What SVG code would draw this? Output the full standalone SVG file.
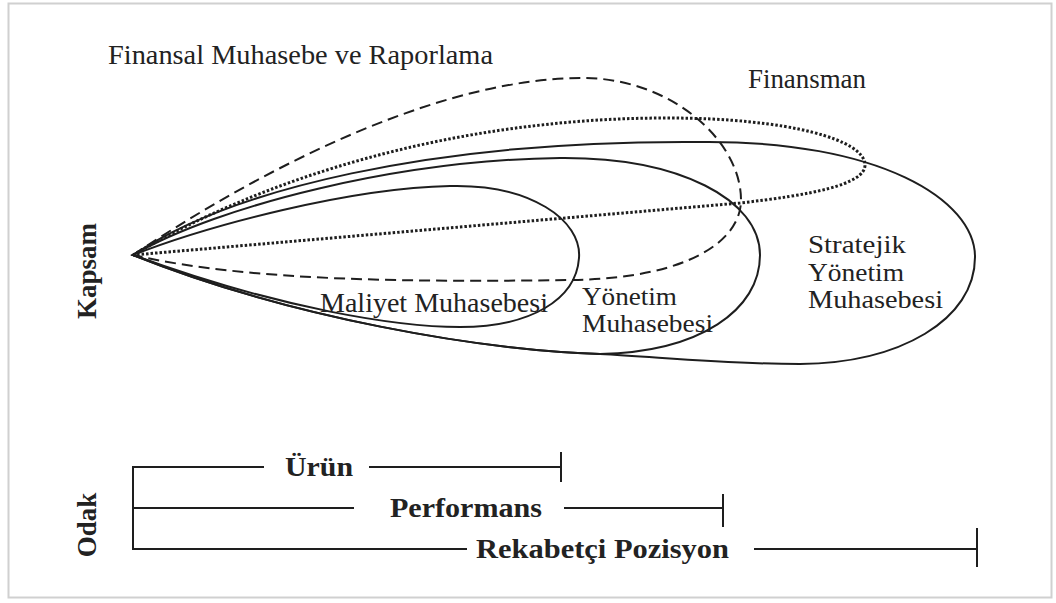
<svg xmlns="http://www.w3.org/2000/svg" width="1056" height="603" viewBox="0 0 1056 603">
<style>
.t{font-family:"Liberation Serif","Times New Roman",serif;fill:#222;font-size:27px}
.m{font-size:25px}
.b{font-weight:bold}
.ln{fill:none;stroke:#1e1e1e;stroke-width:2}
.dash{stroke-dasharray:11 6}
.dot{stroke-dasharray:2.5 2;stroke-width:3}
</style>
<rect x="0" y="0" width="1056" height="603" fill="#fff"/>
<rect x="8.5" y="3.5" width="1043" height="594" fill="none" stroke="#d0d0d0" stroke-width="2"/>
<g id="labels">
<text class="t" x="108" y="64" textLength="385" lengthAdjust="spacingAndGlyphs">Finansal Muhasebe ve Raporlama</text>
<text class="t" x="748" y="88" textLength="118" lengthAdjust="spacingAndGlyphs">Finansman</text>
<text class="t b" font-size="26" text-anchor="middle" transform="translate(96,271) rotate(-90)">Kapsam</text>
<text class="t b" font-size="26" text-anchor="middle" transform="translate(96,525) rotate(-90)">Odak</text>
</g>
<g id="finansal-muhasebe">
<path class="ln dash" d="M133,255 C283,155 450,78 583,78 C670,78 741,140 741,200 C741,240 690,278 573,280 C420,282 250,282 133,255 Z"/>
</g>
<g id="finansman">
<path class="ln dot" d="M133,255 C260,180 450,118 667,118 C790,118 865,140 865,165 C865,185 810,195 740,203 L133,255 Z"/>
</g>
<g id="stratejik">
<path class="ln" d="M133,255 C230,190 430,140 700,142 C880,140 975,200 975,257 C975,320 900,363 800,364 C720,364 660,357 600,354 C480,350 290,318 133,255 Z"/>
<text class="t m" x="808" y="253" textLength="98" lengthAdjust="spacingAndGlyphs">Stratejik</text>
<text class="t m" x="808" y="281" textLength="96" lengthAdjust="spacingAndGlyphs">Yönetim</text>
<text class="t m" x="808" y="308" textLength="135" lengthAdjust="spacingAndGlyphs">Muhasebesi</text>
</g>
<g id="yonetim">
<path class="ln" d="M133,255 C220,205 400,160 560,158 C680,157 760,200 760,255 C760,310 700,352 600,354 C480,350 290,318 133,255 Z"/>
<text class="t m" x="582" y="305" textLength="95" lengthAdjust="spacingAndGlyphs">Yönetim</text>
<text class="t m" x="582" y="332" textLength="131" lengthAdjust="spacingAndGlyphs">Muhasebesi</text>
</g>
<g id="maliyet">
<path class="ln" d="M133,255 C210,225 350,188 450,186 C530,184 582,220 579,258 C576,300 530,327 460,327 C400,327 283,310 133,255 Z"/>
<text class="t" x="320" y="312" textLength="228" lengthAdjust="spacingAndGlyphs">Maliyet Muhasebesi</text>
</g>
<g id="connectors">
<path class="ln" d="M133,466 V550"/>
<path class="ln" d="M133,467 H264 M369,467 H561 M561,452 V482"/>
<path class="ln" d="M133,508 H354 M564,508 H723 M723,494 V527"/>
<path class="ln" d="M133,549 H467 M754,549 H977 M977,528 V567"/>
</g>
<g id="focus-labels">
<text class="t b" x="285" y="476" textLength="68" lengthAdjust="spacingAndGlyphs">Ürün</text>
<text class="t b" x="390" y="517" textLength="152" lengthAdjust="spacingAndGlyphs">Performans</text>
<text class="t b" x="476" y="558" textLength="253" lengthAdjust="spacingAndGlyphs">Rekabetçi Pozisyon</text>
</g>
</svg>
